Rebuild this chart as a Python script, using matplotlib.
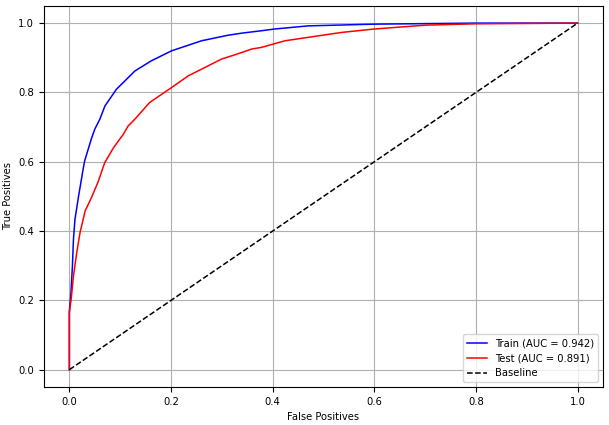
import numpy as np
import matplotlib
matplotlib.use("Agg")
import matplotlib.pyplot as plt

# ROC points
train_fpr = [0.0, 0.0, 0.003, 0.006, 0.008, 0.011, 0.018, 0.027, 0.030, 0.037,
             0.043, 0.050, 0.060, 0.070, 0.0925, 0.129, 0.161, 0.201, 0.260,
             0.312, 0.339, 0.378, 0.404, 0.47, 0.60, 0.80, 1.0]
train_tpr = [0.0, 0.17, 0.22, 0.30, 0.376, 0.434, 0.50, 0.578, 0.602, 0.636,
             0.665, 0.694, 0.723, 0.761, 0.809, 0.862, 0.891, 0.920, 0.949,
             0.965, 0.971, 0.978, 0.983, 0.992, 0.997, 1.0, 1.0]

test_fpr = [0.0, 0.0, 0.004, 0.008, 0.0145, 0.021, 0.031, 0.043, 0.056, 0.0695,
            0.083, 0.089, 0.106, 0.1155, 0.129, 0.158, 0.201, 0.234, 0.260,
            0.299, 0.339, 0.358, 0.378, 0.424, 0.535, 0.60, 0.70, 0.80, 1.0]
test_tpr = [0.0, 0.165, 0.21, 0.27, 0.338, 0.396, 0.458, 0.495, 0.540, 0.597,
            0.631, 0.645, 0.679, 0.703, 0.723, 0.771, 0.814, 0.848, 0.867,
            0.896, 0.915, 0.925, 0.930, 0.949, 0.973, 0.983, 0.994, 0.998, 1.0]

train_auc = 0.942
test_auc = 0.891

plt.rcParams['font.size'] = 7.2
fig = plt.figure(figsize=(6.09, 4.25), dpi=100)
ax = fig.add_axes([0.0722, 0.0894, 0.918, 0.897])

ax.plot(train_fpr, train_tpr, color='b', lw=1.1, label='Train (AUC = {:.3f})'.format(train_auc))
ax.plot(test_fpr, test_tpr, color='r', lw=1.1, label='Test (AUC = {:.3f})'.format(test_auc))
ax.plot([0, 1], [0, 1], 'k--', lw=1.1, label='Baseline')

ax.set_xlabel('False Positives')
ax.set_ylabel('True Positives')
ax.grid(True)
ax.legend(loc='lower right')

fig.savefig('out.png', dpi=100)
